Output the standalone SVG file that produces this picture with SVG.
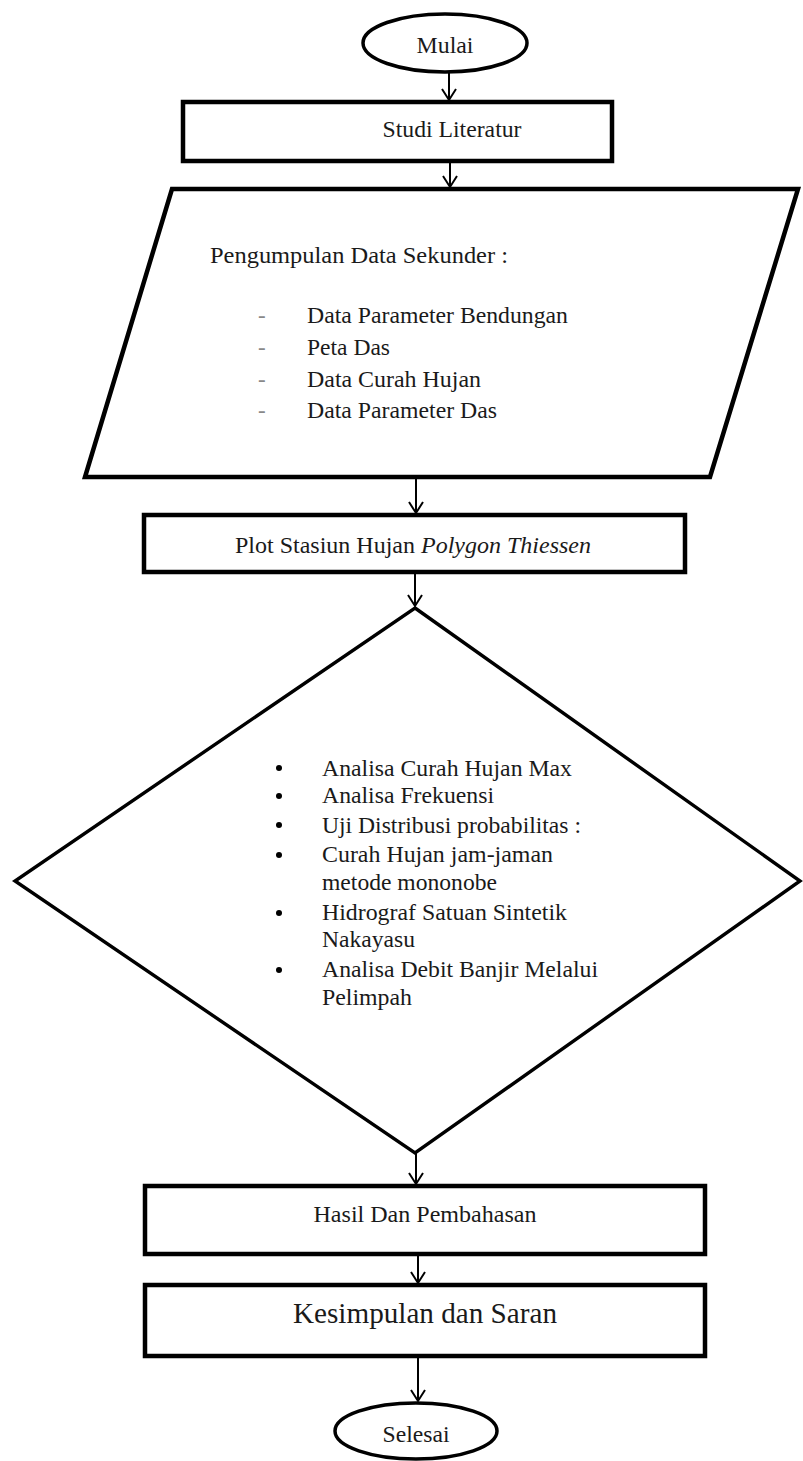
<svg xmlns="http://www.w3.org/2000/svg" width="803" height="1461" viewBox="0 0 803 1461">
<style>
.t{font-family:"Liberation Serif","Times New Roman",serif;font-size:23px;fill:#1a1a1a}
.c{text-anchor:middle}
.box{fill:#fff;stroke:#000;stroke-width:4.5}
.term{fill:#fff;stroke:#000;stroke-width:3.5}
.dia{fill:#fff;stroke:#000;stroke-width:3.4;stroke-linejoin:miter}
.con{stroke:#000;stroke-width:2;fill:none}
.dash{fill:#888}
</style>
<defs>
<marker id="arr" markerUnits="userSpaceOnUse" markerWidth="20" markerHeight="20" viewBox="-15 -10 20 20" refX="0" refY="0" orient="auto">
<path d="M-11,-7 L0,0 L-11,7" fill="none" stroke="#000" stroke-width="2"/>
</marker>
</defs>
<rect width="803" height="1461" fill="#fff"/>

<g id="mulai">
<ellipse class="term" cx="445" cy="43" rx="82" ry="29"/>
<text class="t c" x="445" y="53" textLength="57" lengthAdjust="spacingAndGlyphs">Mulai</text>
</g>

<g id="studi">
<rect class="box" x="183" y="102" width="429" height="59"/>
<text class="t c" x="452" y="137" textLength="139" lengthAdjust="spacingAndGlyphs">Studi Literatur</text>
</g>

<g id="pengumpulan">
<polygon class="box" points="172,189 798,189 710,477 85,477"/>
<text class="t" x="210" y="263" textLength="298" lengthAdjust="spacingAndGlyphs">Pengumpulan Data Sekunder  :</text>
<text class="t dash" x="258" y="323">-</text>
<text class="t dash" x="258" y="355">-</text>
<text class="t dash" x="258" y="387">-</text>
<text class="t dash" x="258" y="418">-</text>
<text class="t" x="307" y="323" textLength="261" lengthAdjust="spacingAndGlyphs">Data Parameter Bendungan</text>
<text class="t" x="307" y="355" textLength="83" lengthAdjust="spacingAndGlyphs">Peta Das</text>
<text class="t" x="307" y="387" textLength="174" lengthAdjust="spacingAndGlyphs">Data Curah Hujan</text>
<text class="t" x="307" y="418" textLength="190" lengthAdjust="spacingAndGlyphs">Data Parameter Das</text>
</g>

<g id="plot">
<rect class="box" x="144" y="515" width="541" height="57"/>
<text class="t c" x="413" y="553" textLength="356" lengthAdjust="spacingAndGlyphs">Plot Stasiun Hujan <tspan font-style="italic">Polygon Thiessen</tspan></text>
</g>

<g id="analisa">
<polygon class="dia" points="415,608 800,881 415,1153 15,881"/>
<g fill="#000">
<circle cx="279" cy="768" r="3"/>
<circle cx="279" cy="796" r="3"/>
<circle cx="279" cy="825" r="3"/>
<circle cx="279" cy="855" r="3"/>
<circle cx="279" cy="913" r="3"/>
<circle cx="279" cy="970" r="3"/>
</g>
<text class="t" x="322" y="776" textLength="250" lengthAdjust="spacingAndGlyphs">Analisa Curah Hujan Max</text>
<text class="t" x="322" y="803" textLength="172" lengthAdjust="spacingAndGlyphs">Analisa Frekuensi</text>
<text class="t" x="322" y="833" textLength="259" lengthAdjust="spacingAndGlyphs">Uji Distribusi probabilitas :</text>
<text class="t" x="322" y="862" textLength="231" lengthAdjust="spacingAndGlyphs">Curah Hujan jam-jaman</text>
<text class="t" x="322" y="890" textLength="175" lengthAdjust="spacingAndGlyphs">metode mononobe</text>
<text class="t" x="322" y="920" textLength="245" lengthAdjust="spacingAndGlyphs">Hidrograf Satuan Sintetik</text>
<text class="t" x="322" y="947" textLength="93" lengthAdjust="spacingAndGlyphs">Nakayasu</text>
<text class="t" x="322" y="977" textLength="276" lengthAdjust="spacingAndGlyphs">Analisa Debit Banjir Melalui</text>
<text class="t" x="322" y="1005" textLength="90" lengthAdjust="spacingAndGlyphs">Pelimpah</text>
</g>

<g id="hasil">
<rect class="box" x="145" y="1186" width="560" height="68"/>
<text class="t c" x="425" y="1222" textLength="223" lengthAdjust="spacingAndGlyphs">Hasil Dan Pembahasan</text>
</g>

<g id="kesimpulan">
<rect class="box" x="145" y="1285" width="560" height="71"/>
<text class="t c" x="425" y="1323" style="font-size:29px" textLength="264" lengthAdjust="spacingAndGlyphs">Kesimpulan dan Saran</text>
</g>

<g id="selesai">
<ellipse class="term" cx="416" cy="1431" rx="81" ry="28"/>
<text class="t c" x="416" y="1442" textLength="67" lengthAdjust="spacingAndGlyphs">Selesai</text>
</g>

<g id="connectors">
<line class="con" x1="449" y1="73" x2="449" y2="100" marker-end="url(#arr)"/>
<line class="con" x1="450" y1="161" x2="450" y2="187" marker-end="url(#arr)"/>
<line class="con" x1="416" y1="477" x2="416" y2="513" marker-end="url(#arr)"/>
<line class="con" x1="415" y1="572" x2="415" y2="606" marker-end="url(#arr)"/>
<line class="con" x1="416" y1="1153" x2="416" y2="1184" marker-end="url(#arr)"/>
<line class="con" x1="418" y1="1254" x2="418" y2="1283" marker-end="url(#arr)"/>
<line class="con" x1="418" y1="1356" x2="418" y2="1401" marker-end="url(#arr)"/>
</g>
</svg>
